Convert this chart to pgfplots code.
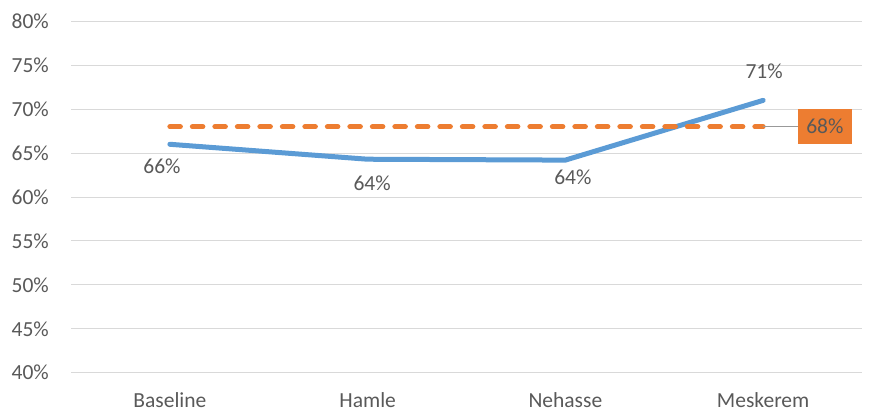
\documentclass[border=0pt]{standalone}
\usepackage{pgfplots}
\pgfplotsset{compat=1.18}
\usepackage{fontspec}
\setmainfont{Carlito}

\definecolor{lblue}{HTML}{5B9BD5}
\definecolor{lorange}{HTML}{ED7D31}
\definecolor{txtgrey}{HTML}{595959}
\definecolor{gridgrey}{HTML}{D9D9D9}

\newcommand{\lblfont}{\fontsize{21.5bp}{26bp}\selectfont}

\begin{document}
\begin{tikzpicture}[x=1bp,y=1bp]
\useasboundingbox (0,0) rectangle (881,410);
\begin{axis}[
    at={(71bp,37.3bp)}, anchor=south west,
    scale only axis,
    width=791bp, height=351.4bp,
    xmin=-0.5, xmax=3.5,
    ymin=40, ymax=80,
    ytick={40,45,...,80},
    xtick={0,1,2,3},
    xticklabels={Baseline,Hamle,Nehasse,Meskerem},
    yticklabel={\pgfmathprintnumber{\tick}\%},
    /pgf/number format/assume math mode=true,
    axis line style={draw=none},
    tick style={draw=none},
    ymajorgrids,
    grid style={gridgrey, line width=1bp},
    tick label style={font=\lblfont, text=txtgrey},
    yticklabel style={anchor=east, inner sep=0pt, xshift=-22bp},
    xticklabel style={anchor=north, inner sep=0pt, text depth=0pt, yshift=-19.5bp},
    clip=false,
]
    % actual values
    \addplot[lblue, line width=5bp, line cap=round, line join=round]
        coordinates {(0,66.0) (1,64.3) (2,64.2) (3,71.0)};
    % target line
    \addplot[lorange, line width=5bp, line cap=round, dash pattern=on 10.5bp off 12bp]
        coordinates {(0,68) (1,68) (2,68) (3,68)};

    % data labels
    \node[font=\lblfont, text=txtgrey] at (axis cs:-0.04,63.53) {66\%};
    \node[font=\lblfont, text=txtgrey] at (axis cs:1.023,61.54) {64\%};
    \node[font=\lblfont, text=txtgrey] at (axis cs:2.038,62.22) {64\%};
    \node[font=\lblfont, text=txtgrey] at (axis cs:3.005,74.29) {71\%};

    \draw[gray!80, line width=1bp] (axis cs:3,68) -- (axis cs:3.175,68);
    \node[fill=lorange, minimum width=54bp, minimum height=34.7bp, inner sep=0pt,
          font=\lblfont, text=txtgrey] at (axis cs:3.312,68.05) {68\%};
\end{axis}
\end{tikzpicture}
\end{document}
